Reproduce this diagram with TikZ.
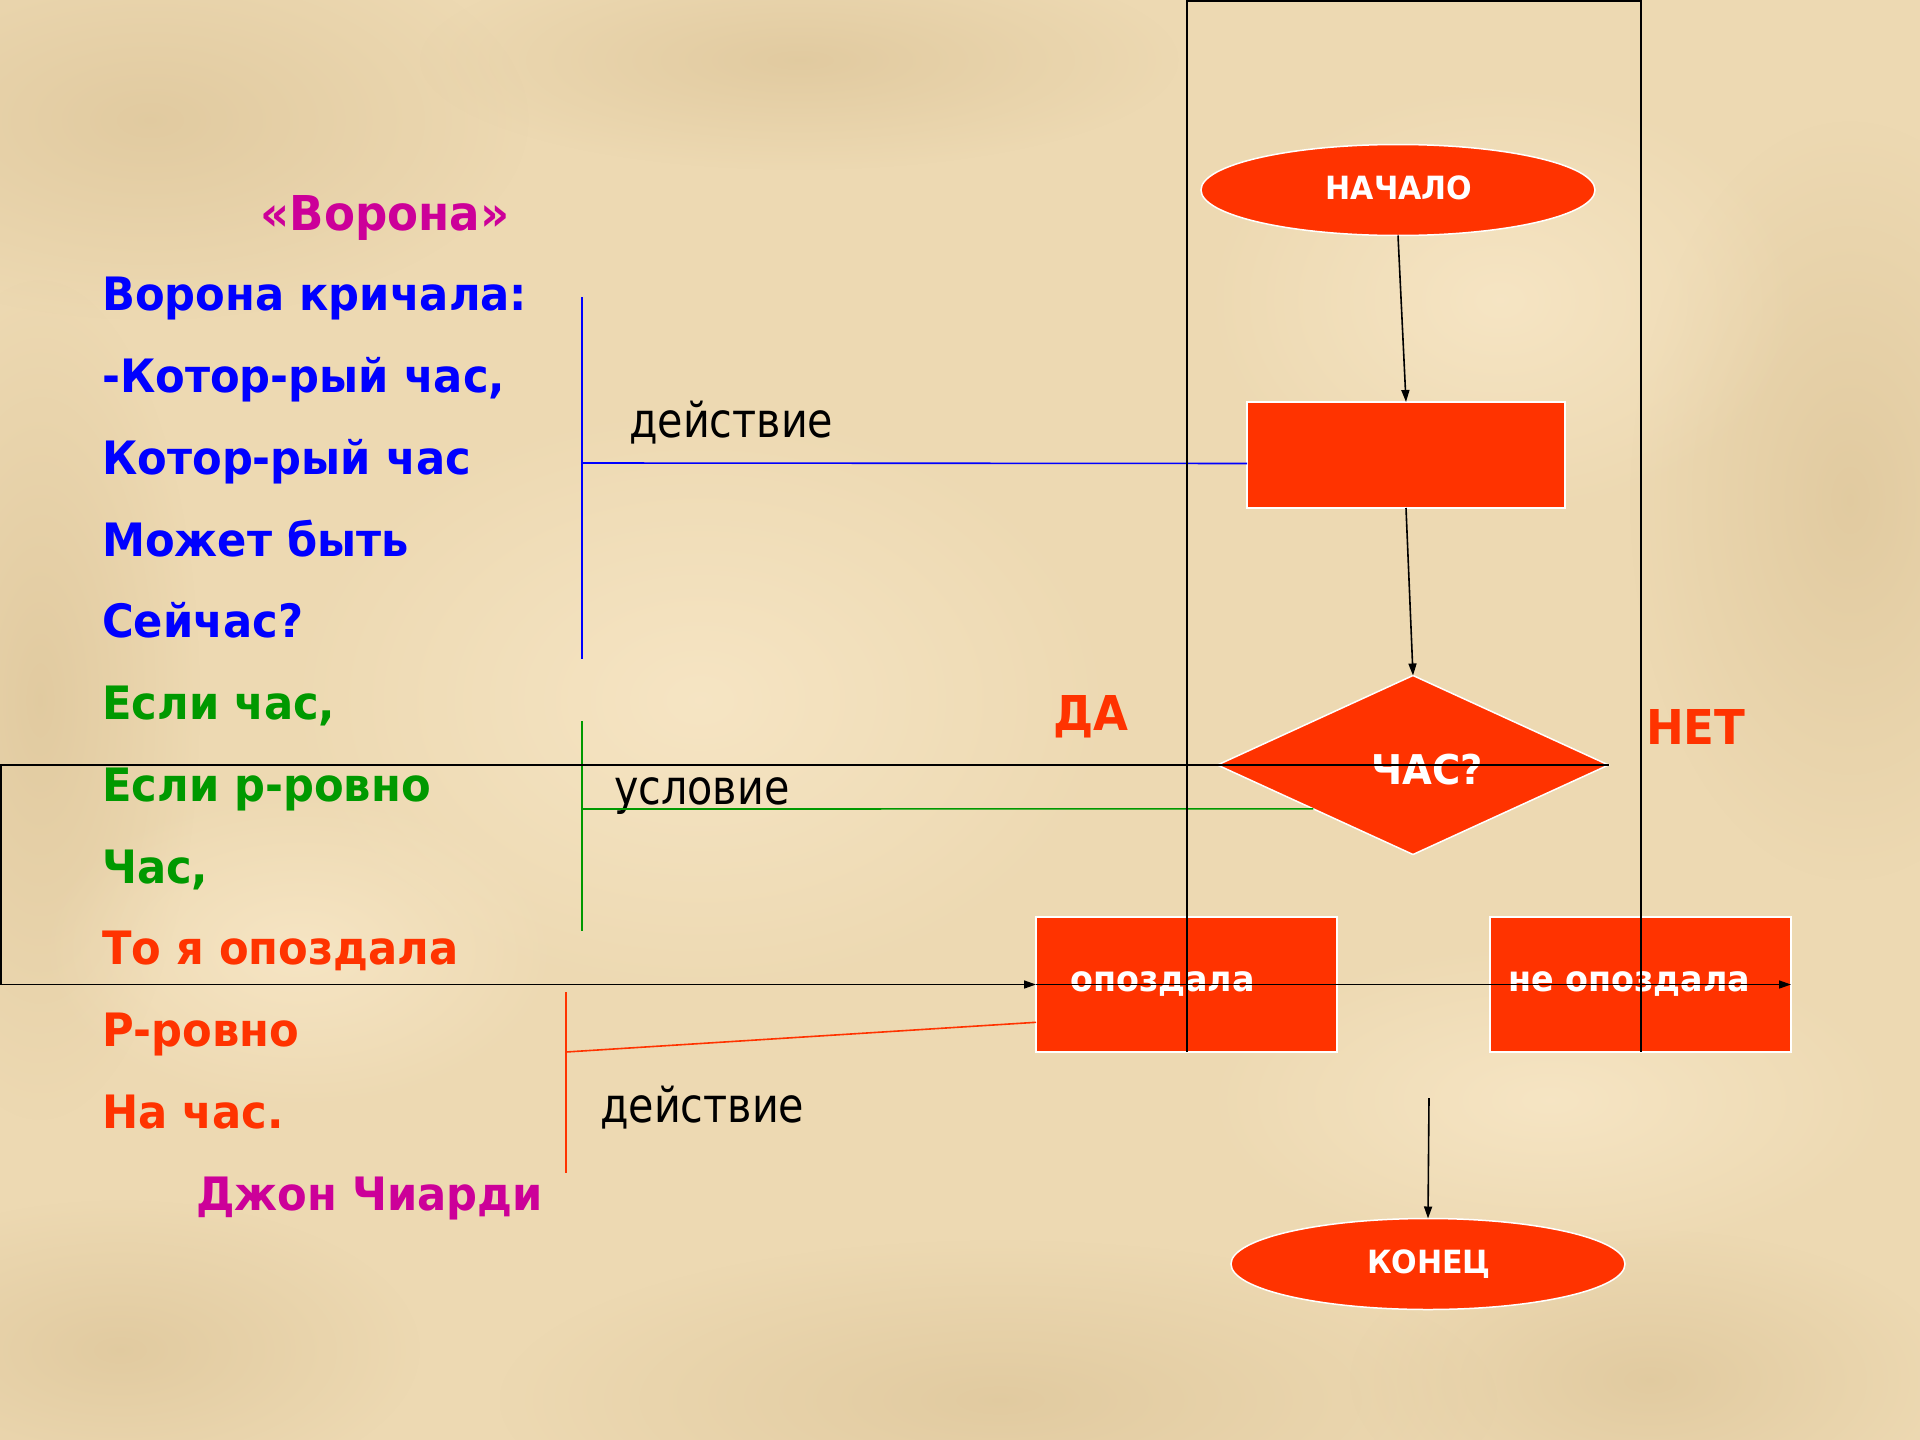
\documentclass[tikz,border=0pt]{standalone}
\usepackage{fontspec}
\setmainfont{DejaVu Sans}
\newfontfamily\regfont{DejaVu Sans}[FakeStretch=0.86]
\newfontfamily\boldfont{DejaVu Sans}[FakeStretch=0.94]
\usetikzlibrary{shapes.geometric,arrows.meta,calc,fadings}
\tikzfading[name=softblob, inner color=transparent!0, outer color=transparent!100]
\definecolor{bg}{HTML}{EDD9B2}
\definecolor{bgdark}{HTML}{D8BF92}
\definecolor{bglight}{HTML}{FAEACB}
\definecolor{fred}{HTML}{FF3300}
\definecolor{fblue}{HTML}{0000FF}
\definecolor{fgreen}{HTML}{009900}
\definecolor{fmag}{HTML}{CC0099}
\begin{document}
\begin{tikzpicture}[x=1pt,y=-1pt,
  shapebox/.style={fill=fred,draw=white,line width=1.5pt,inner sep=0pt,outer sep=0pt},
  wtext/.style={text=white,font=\boldfont\bfseries\fontsize{32}{36}\selectfont,inner sep=0pt,anchor=base},
  poem/.style={font=\boldfont\bfseries\fontsize{46}{52}\selectfont,inner sep=0pt,anchor=base west},
  lbl/.style={font=\regfont\fontsize{48}{54}\selectfont,inner sep=0pt,anchor=base west,text=black},
  bigred/.style={font=\boldfont\bfseries\fontsize{48}{54}\selectfont,inner sep=0pt,anchor=base west,text=fred},
  blk/.style={draw=black,line width=1.6pt},
  arr/.style={blk,-{Triangle[length=12pt,width=8pt]}},
  bluel/.style={draw=fblue,line width=1.6pt},
  greenl/.style={draw=fgreen,line width=1.6pt},
  redl/.style={draw=fred,line width=1.6pt},
  blobd/.style={fill=bgdark,path fading=softblob,opacity=0.55},
  blobl/.style={fill=bglight,path fading=softblob,opacity=0.7},
]
\fill[bg] (0,0) rectangle (1920,1440);
\useasboundingbox (0,0) rectangle (1920,1440);

% parchment texture
\begin{scope}
\clip (0,0) rectangle (1920,1440);
\fill[blobd] (150,120) ellipse (380 and 200);
\fill[blobd] (40,700) ellipse (160 and 420);
\fill[blobd] (1850,500) ellipse (220 and 380);
\fill[blobd] (1000,1400) ellipse (500 and 160);
\fill[blobd] (1650,1380) ellipse (300 and 150);
\fill[blobd] (800,60) ellipse (380 and 110);
\fill[blobd] (120,1350) ellipse (300 and 150);
\fill[blobl] (700,700) ellipse (420 and 300);
\fill[blobl] (1500,300) ellipse (300 and 220);
\fill[blobl] (1550,1100) ellipse (350 and 160);
\fill[blobl] (300,950) ellipse (260 and 160);
\end{scope}

% flowchart shapes
\node[shapebox,ellipse,minimum width=394pt,minimum height=91pt] (start) at (1398,190) {};
\node[shapebox,rectangle,minimum width=318pt,minimum height=106pt] (act) at (1406,455) {};
\node[shapebox,diamond,minimum width=391pt,minimum height=179pt] (dia) at (1413,765) {};
\node[shapebox,rectangle,minimum width=301pt,minimum height=135pt] (late) at (1186.5,984.5) {};
\node[shapebox,rectangle,minimum width=301pt,minimum height=135pt] (notlate) at (1640.5,984.5) {};
\node[shapebox,ellipse,minimum width=394pt,minimum height=91pt] (end) at (1428,1264) {};

% texts in shapes
\node[wtext] (tstart) at (1399,199) {НАЧАЛО};
\node[wtext,font=\boldfont\bfseries\fontsize{41}{46}\selectfont] (tdia) at (1427,784) {ЧАС?};
\node[wtext,anchor=base west,font=\boldfont\bfseries\fontsize{35.5}{40}\selectfont] (tlate) at (1070,991) {опоздала};
\node[wtext,anchor=base west,font=\boldfont\bfseries\fontsize{35.5}{40}\selectfont] (tnot) at (1508,991) {не опоздала};
\node[wtext] (tend) at (1429,1273) {КОНЕЦ};

\node[bigred] (yes) at (1053,730) {ДА};
\node[bigred] (no) at (1646,744) {НЕТ};

% poem
\node[poem,text=fmag,anchor=base,font=\boldfont\bfseries\fontsize{48}{52}\selectfont] (title) at (385,230) {«Ворона»};
\node[poem,text=fblue] (p1) at (102,310) {Ворона кричала:};
\node[poem,text=fblue] (p2) at (102,392) {-Котор-рый час,};
\node[poem,text=fblue] (p3) at (102,474) {Котор-рый час};
\node[poem,text=fblue] (p4) at (102,556) {Может быть};
\node[poem,text=fblue] (p5) at (102,637) {Сейчас?};
\node[poem,text=fgreen] (p6) at (102,719) {Если час,};
\node[poem,text=fgreen] (p7) at (102,801) {Если р-ровно};
\node[poem,text=fgreen] (p8) at (102,883) {Час,};
\node[poem,text=fred] (p9) at (102,964) {То я опоздала};
\node[poem,text=fred] (p10) at (102,1046) {Р-ровно};
\node[poem,text=fred] (p11) at (102,1128) {На час.};
\node[poem,text=fmag] (author) at (196,1210) {Джон Чиарди};

% labels
\node[lbl] (lab1) at (629,437) {действие};
\node[lbl] (lab2) at (614,804) {условие};
\node[lbl] (lab3) at (600,1122) {действие};

% brackets
\coordinate (bt) at (582,297);
\coordinate (bb) at (582,659);
\coordinate (bm) at (582,463);
\draw[bluel] (bt) -- (bb);
\draw[bluel] (bm) -- ($(act.north west)!0.58!(act.south west)$);

\coordinate (gt) at (582,721);
\coordinate (gb) at (582,931);
\coordinate (gm) at (582,809);
\draw[greenl] (gt) -- (gb);
\draw[greenl] (gm) -- ($(dia.west)!0.49!(dia.south)$);

\coordinate (rt) at (566,992);
\coordinate (rb) at (566,1173);
\coordinate (rm) at (566,1052);
\draw[redl] (rt) -- (rb);
\draw[redl] (rm) -- ($(late.north west)!0.78!(late.south west)$);

% arrows
\draw[arr] (start.south) -- (act.north);
\draw[arr] (act.south) -- (dia.north);
\coordinate (ea) at (1429,1098);
\draw[arr] (ea) -- (end.north);

% frame lines
\coordinate (ftl) at (1187,1);
\coordinate (ftr) at (1641,1);
\coordinate (fbl) at (1187,1052);
\coordinate (fbr) at (1641,1052);
\draw[blk] (fbl) -- (ftl) -- (ftr) -- (fbr);

% loop line
\coordinate (lt) at (1,765);
\draw[arr] (dia.east) -- (lt) -- (lt |- late.west) -- (late.west);
\draw[arr] (late.west) -- (notlate.east);
\end{tikzpicture}
\end{document}
